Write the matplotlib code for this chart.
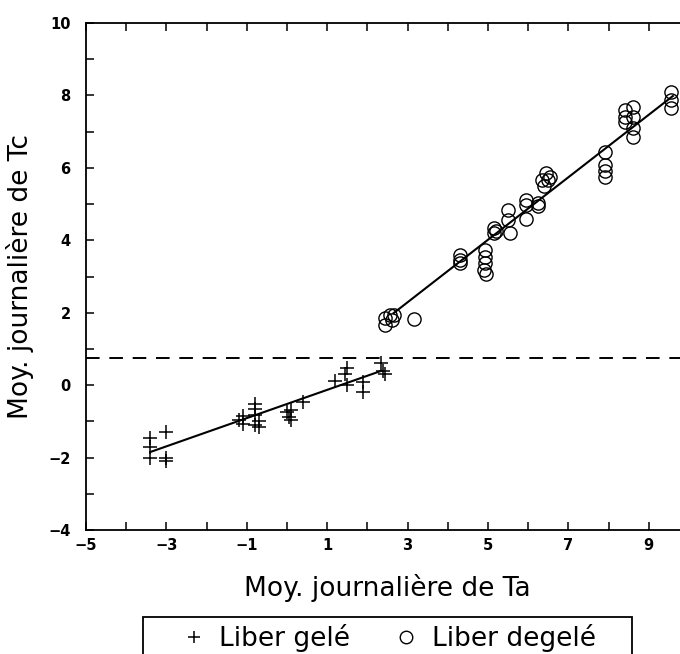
import matplotlib
matplotlib.use("Agg")
import matplotlib.pyplot as plt
from matplotlib.patches import Rectangle
from matplotlib.ticker import MultipleLocator
import numpy as np

# Daily means: air temperature (Ta) vs cambium temperature (Tc)
frozen_ta = [-3.4, -3.4, -3.4, -3.0, -3.0, -3.0, -1.2, -1.1, -1.1, -0.8, -0.8,
             -0.8, -0.7, -0.7, -0.8, 0.0, 0.05, 0.1, 0.1, 0.4, 1.2, 1.45, 1.5,
             1.5, 1.9, 1.9, 2.35, 2.4, 2.45]
frozen_tc = [-1.45, -1.7, -2.0, -1.3, -2.0, -2.1, -0.97, -0.85, -1.06, -0.52,
             -0.65, -0.83, -1.0, -1.15, -1.1, -0.75, -0.87, -0.97, -0.7, -0.46,
             0.12, 0.32, 0.46, 0.0, 0.08, -0.18, 0.62, 0.4, 0.32]

thawed_ta = [2.45, 2.45, 2.55, 2.6, 2.65, 3.15, 4.3, 4.3, 4.3, 4.93, 4.93,
             4.93, 4.9, 4.95, 5.15, 5.15, 5.2, 5.5, 5.5, 5.55, 5.95, 5.95, 5.95,
             6.25, 6.25, 6.35, 6.45, 6.5, 6.55, 6.4, 7.9, 7.9, 7.9, 7.9, 8.4,
             8.4, 8.4, 8.6, 8.6, 8.6, 8.6, 9.55, 9.55, 9.55]
thawed_tc = [1.85, 1.65, 1.93, 1.8, 1.95, 1.82, 3.6, 3.45, 3.36, 3.73, 3.55,
             3.36, 3.18, 3.08, 4.33, 4.19, 4.25, 4.83, 4.56, 4.19, 5.1, 4.97,
             4.6, 5.02, 4.95, 5.66, 5.85, 5.66, 5.75, 5.5, 6.45, 6.08, 5.9,
             5.75, 7.6, 7.4, 7.27, 7.69, 7.4, 7.09, 6.86, 8.1, 7.87, 7.64]

# regression lines: (slope, intercept, x start, x end)
frozen_fit = (0.39, -0.52, -3.4, 2.35)
thawed_fit = (0.863, -0.30, 2.65, 9.6)

threshold_tc = 0.75

plt.rcParams["font.family"] = "DejaVu Sans"

W, H = 680, 654
fig = plt.figure(figsize=(W / 100, H / 100), dpi=100)
ax = fig.add_axes([86 / W, 1 - 530 / H, 603 / W, 507 / H])

ax.plot(frozen_ta, frozen_tc, linestyle="none", marker="+", ms=10, mew=1.1,
        color="black", label="Liber gelé")
ax.plot(thawed_ta, thawed_tc, linestyle="none", marker="o", ms=9.5, mew=1.0,
        mfc="none", mec="black", label="Liber degelé")

for slope, icpt, x0, x1 in (frozen_fit, thawed_fit):
    xs = np.array([x0, x1])
    ax.plot(xs, slope * xs + icpt, color="black", lw=1.5)

ax.axhline(threshold_tc, color="black", lw=1.4, dashes=(7, 5))

ax.set_xlim(-5, 10)
ax.set_ylim(-4, 10)
ax.xaxis.set_minor_locator(MultipleLocator(1))
ax.set_xticks([-5, -3, -1, 1, 3, 5, 7, 9])
ax.yaxis.set_major_locator(MultipleLocator(2))
ax.yaxis.set_minor_locator(MultipleLocator(1))

ax.tick_params(which="both", direction="in", top=True, right=False,
               length=6, width=1.1, labelsize=10.5)
ax.tick_params(axis="x", pad=6)
ax.tick_params(axis="y", pad=11)
for lbl in ax.get_xticklabels() + ax.get_yticklabels():
    lbl.set_fontweight("bold")
for s in ("left", "bottom", "top"):
    ax.spines[s].set_linewidth(1.3)
ax.spines["right"].set_visible(False)

ax.set_xlabel("Moy. journalière de Ta", fontsize=19, labelpad=15)
ax.set_ylabel("Moy. journalière de Tc", fontsize=19, labelpad=10)

# legend box runs off the bottom edge of the figure
fig.patches.append(Rectangle((143 / W, -0.05), (632 - 143) / W,
                             0.05 + 1 - 617 / H, transform=fig.transFigure,
                             fill=False, edgecolor="black", lw=1.3))
leg = fig.legend(loc="center", bbox_to_anchor=(390 / W, 1 - 638 / H),
                 ncol=2, fontsize=19, frameon=False, handlelength=0.7,
                 handletextpad=0.6, columnspacing=1.8, borderpad=0,
                 borderaxespad=0)
for h in leg.legend_handles:
    h.set_markersize(9)

fig.savefig("out.png", dpi=100)
